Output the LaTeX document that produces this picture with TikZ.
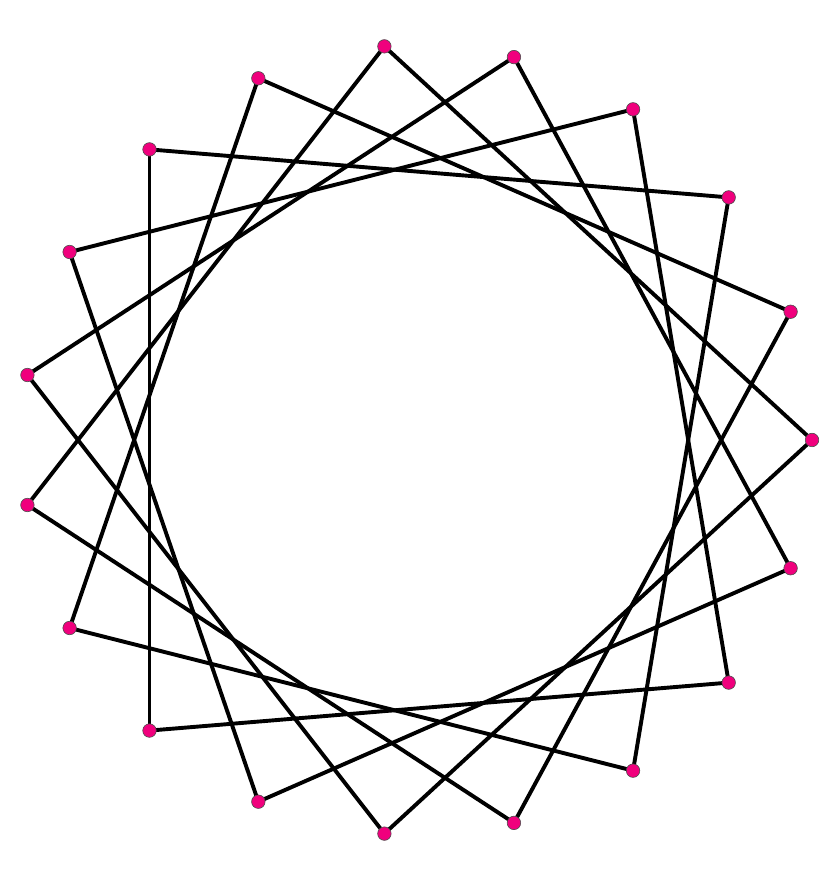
\documentclass[tikz,border=0pt]{standalone}
\usepackage{xcolor}
\usepackage{tikz}
\usetikzlibrary{calc}
\definecolor{vertexpink}{RGB}{240,0,125}
\tikzset{
  starline/.style={line width=3.9pt,black,line cap=round,line join=round},
  vertexdot/.style={circle,fill=vertexpink,draw=black!70,line width=0.6pt,minimum size=13.5pt,inner sep=0pt}
}
\begin{document}
\begin{tikzpicture}[x=1pt,y=1pt]
				\useasboundingbox (0,0) rectangle (840,881);
				\coordinate (O) at (417,441);
				\foreach \k in {0,...,18}{
					\coordinate (P\k) at ($(O)+({\k*360/19}:395)$);
				}
				\foreach \k in {0,...,18}{
					\pgfmathtruncatemacro{\next}{mod(\k+5,19)}
					\draw[starline] (P\k) -- (P\next);
				}
				\foreach \k in {0,...,18}{
					\node[vertexdot] (V\k) at (P\k) {};
				}
			\end{tikzpicture}
\end{document}
